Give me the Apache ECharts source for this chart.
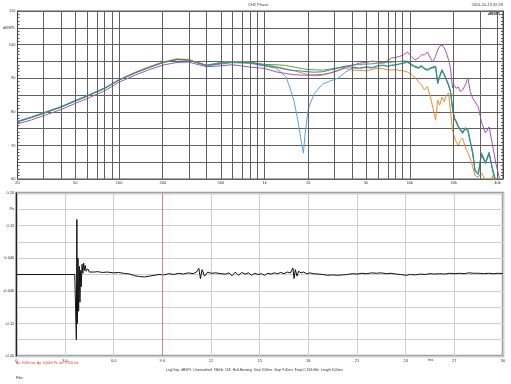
<!DOCTYPE html>
<html><head><meta charset="utf-8">
<script src="https://cdn.jsdelivr.net/npm/echarts@6/dist/echarts.min.js"></script>
<style>html,body{margin:0;padding:0;background:#fff}#c{width:511px;height:384px}</style>
</head><body><div id="c"></div>
<script>
const freqHz = [20,25,30,40,50,60,80,100,130,160,200,250,300,400,500,600,800,1000,1200,1400,1500,1600,1700,1800,1850,1900,2000,2200,2500,2800,3200,3600,4000,4500,5000,5500,6000,6500,7000,7500,8000,8500,9000,9600,10200,10800,11400,12000,12600,13200,13800,14400,15000,15500,16000,16600,17200,17800,18400,19000,19600,20200,20800,21500,22200,23000,24000,25000,26000,27000,28000,29500,31000,33000,35000,37000,39000,41000,43000];
const blueDb = [77.2,78.5,79.7,81.6,83.4,84.8,87.2,89.6,91.8,93.3,94.8,95.6,95.4,93.7,94.2,94.6,94.4,93.6,93.0,90.5,87.0,83.0,77.0,70.5,67.7,73.5,81.0,85.5,88.2,89.1,90.0,91.8,93.0,92.9,93.2,93.0,93.5,93.8,93.5,93.8,93.9,94.2,94.4,94.7,93.9,93.3,92.9,93.4,92.7,92.3,92.8,93.0,93.2,88.3,90.3,92.2,90.8,89.3,87.8,85.8,80.8,77.8,76.8,75.3,74.4,73.5,74.8,74.2,70.8,67.4,62.2,61.2,67.2,64.5,67.4,62.4,58.7,55.7,53.7];
const orangeDb = [77.0,78.3,79.5,81.4,83.2,84.6,87.0,89.5,91.8,93.4,94.8,95.8,95.6,93.9,94.7,95.0,94.8,94.0,93.4,92.8,92.5,92.2,91.9,91.6,91.5,91.3,91.1,90.7,90.9,91.5,92.4,93.0,92.4,92.3,92.2,92.6,93.0,92.8,92.5,92.4,92.6,92.3,92.2,91.8,91.2,90.3,89.0,88.0,86.5,87.5,84.4,81.0,77.6,83.5,82.0,84.4,83.0,85.0,85.6,80.0,74.6,72.5,71.0,70.1,71.5,72.2,69.5,67.8,66.0,63.6,61.0,60.6,61.8,59.7,58.5,61.0,56,53,51];
const greenDb = [77.1,78.4,79.6,81.5,83.3,84.7,87.1,89.5,91.7,93.2,94.7,95.6,95.4,93.8,94.6,94.9,94.7,94.1,94.0,93.8,93.5,93.3,93.1,92.9,92.8,92.7,92.6,92.5,92.4,92.7,93.1,93.6,93.9,94.1,94.2,94.3,94.5,94.5,94.7,94.8,94.9,95.0,95.1,95.1,94.2,93.6,93.2,93.8,93.0,92.6,93.1,93.4,93.6,88.8,90.8,92.6,91.2,89.7,88.2,86.2,81.3,78.3,77.3,75.8,74.9,74.0,75.3,74.8,71.3,68.0,62.8,61.8,67.8,65.1,68.0,63.0,59.3,56.3,54.3];
const tealDb = [77.0,78.3,79.5,81.4,83.2,84.6,87.0,89.4,91.6,93.1,94.6,95.5,95.4,93.8,94.4,94.8,94.6,93.8,93.3,92.6,92.4,92.3,92.2,92.1,92.0,92.0,91.9,91.8,91.9,92.4,93.0,93.4,93.3,93.0,93.4,93.2,93.7,93.9,93.6,93.9,94.0,94.3,94.5,94.9,94.0,93.4,93.0,93.6,92.8,92.4,92.9,93.2,93.4,88.5,90.5,92.4,91.0,89.5,88.0,86.0,81.0,78.0,77.0,75.5,74.6,73.7,75.0,74.5,71.0,67.7,62.5,61.5,67.5,64.8,67.7,62.7,59.0,56,54];
const purpleDb = [76.4,77.6,78.8,80.7,82.5,83.9,86.3,88.8,91.0,92.5,93.9,94.7,94.8,93.4,93.7,94.0,93.3,92.9,91.9,91.4,91.2,91.0,91.0,90.9,90.9,90.9,90.9,91.0,91.1,91.5,92.2,93.3,93.8,94.5,94.7,95.1,94.8,94.5,95.2,96.0,96.2,96.5,96.9,97.8,96.5,95.4,96.0,96.9,97.0,97.8,96.0,94.8,96.5,98.4,99.5,99.9,99.0,97.5,95.5,93.0,87.1,87.8,87.0,87.4,86.0,86.5,88.0,90.1,86.0,84.0,83.0,81.4,77.0,73.7,75.5,70.0,64.5,60.6,57];

const freqGridHz = [30,40,50,60,70,80,90,100,200,300,400,500,600,700,800,900,1000,2000,3000,4000,5000,6000,7000,8000,9000,10000,20000,30000,40000];
const freqLabelHz = [20,50,100,200,500,1000,2000,5000,10000,20000,40000];
const freqLabelText = ['20','50','100','200','500','1k','2k','5k','10k','20k','40k'];
const dbLabels = {110:'110',105:'dBSPL',100:'100',90:'90',80:'80',70:'70',60:'60'};

const impulseMs = [0,3.60,3.68,3.70,3.73,3.76,3.80,3.84,3.88,3.92,3.96,4.00,4.05,4.10,4.15,4.20,4.25,4.30,4.40,4.50,4.60,4.80,5.0,5.3,5.6,6.0,6.3,6.6,7.0,7.3,7.6,7.9,8.2,8.5,8.8,9.1,9.4,9.7,10.0,10.3,10.6,10.9,11.1,11.25,11.35,11.45,11.6,11.8,12.0,12.3,12.6,12.9,13.1,13.3,13.5,13.7,13.9,14.1,14.3,14.5,14.7,14.9,15.1,15.3,15.5,15.7,15.9,16.1,16.3,16.5,16.7,16.9,17.05,17.12,17.2,17.3,17.4,17.55,17.7,17.9,18.1,18.3,18.6,18.9,19.2,19.5,19.8,20.1,20.4,20.7,21.0,21.3,21.6,21.9,22.2,22.5,22.8,23.1,23.4,23.7,24.0,24.3,24.6,24.9,25.2,25.5,25.8,26.1,26.4,26.7,27.0,27.3,27.6,27.9,28.2,28.5,28.8,29.1,29.4,29.7,30.0];
const impulsePa = [0,0,0.002,-0.16,0.135,-0.12,0.04,-0.09,0.02,-0.068,0.01,-0.03,0.025,0.003,0.028,0.01,0.022,0.008,0.014,0.006,0.01,0.006,0.007,0.005,0.006,0.004,0.005,0.003,0.001,-0.003,-0.005,-0.006,-0.004,-0.002,0.0,-0.001,0.002,0.0,0.003,0.001,0.004,0.002,0.006,0.015,-0.01,0.012,-0.004,0.006,0.003,0.004,0.002,0.001,0.004,-0.003,0.006,-0.002,0.005,0.001,0.004,-0.002,0.003,0.0,0.002,-0.002,0.003,0.001,0.004,0.002,0.005,0.002,0.006,0.004,0.016,-0.01,0.012,-0.004,0.008,0.004,0.006,0.002,0.004,0.002,0.001,0.0,-0.002,-0.001,-0.002,-0.001,0.0,0.002,0.001,0.003,0.002,0.004,0.003,0.004,0.002,0.003,0.001,0.0,-0.002,0.0,-0.001,0.001,0.0,0.002,0.001,0.002,0.001,0.003,0.002,0.003,0.002,0.004,0.003,0.003,0.002,0.003,0.002,0.003,0.002];
const paLabels = {20:'0.20',16:'Pa',12:'0.12',4:'0.040','-4':'-0.040','-12':'-0.12','-20':'-0.20'};
const msLabels = {0:'0',3:'3.0',6:'6.0',9:'9.0',12:'12',15:'15',18:'18',21:'21',24:'24',27:'27',30:'30'};
const markerMs = 9.0;

const FONT = 'Liberation Sans, Arial, sans-serif';
const lbl = {fontSize:4, color:'#333', fontFamily:FONT};
const lg = v => Math.log10(v);
const mk = arr => freqHz.map((f,i)=>[lg(f), arr[i]]);
const lineS = (name, arr, color) => ({name, type:'line', xAxisIndex:0, yAxisIndex:0, z:3, data:mk(arr), showSymbol:false, symbol:'none', lineStyle:{width:1, color}, itemStyle:{color}, animation:false, clip:true});

const chart = echarts.init(document.getElementById('c'), null, {renderer:'canvas'});
chart.setOption({
  animation:false,
  backgroundColor:'#fff',
  grid:[
    {left:14, right:8, top:11, height:168, show:true, borderColor:'#555', borderWidth:1},
    {left:14, right:8, top:193, height:163, show:true, borderColor:'#a0a0a0', borderWidth:2.5}
  ],
  xAxis:[
    {type:'value', gridIndex:0, min:lg(20), max:lg(43600),
     axisLine:{show:false},
     axisTick:{show:false},
     splitLine:{show:false},
     axisLabel:Object.assign({}, lbl, {margin:2, customValues:freqLabelHz.map(lg),
        formatter:v=>{const f=Math.round(Math.pow(10,v)); const i=freqLabelHz.indexOf(f); return i>=0?freqLabelText[i]:'';}})},
    {type:'value', gridIndex:1, min:0, max:30, interval:3,
     axisLine:{show:false}, axisTick:{show:false},
     splitLine:{show:true, lineStyle:{color:'#cfcfcf', width:1}},
     axisLabel:Object.assign({}, lbl, {margin:3, formatter:v=>msLabels[Math.round(v)]||''})}
  ],
  yAxis:[
    {type:'value', gridIndex:0, min:60, max:110, interval:5, position:'left',
     axisLine:{show:true, lineStyle:{color:'#444', width:1}},
     axisTick:{show:false, inside:true, length:2},
     minorTick:{show:true, splitNumber:5, length:2, lineStyle:{color:'#555'}},
     splitLine:{show:true, lineStyle:{color:'#606060', width:1}},
     axisLabel:Object.assign({}, lbl, {margin:2, formatter:v=>dbLabels[Math.round(v)]||''})},
    {type:'value', gridIndex:0, min:60, max:110, interval:5, position:'right',
     axisLine:{show:true, lineStyle:{color:'#444', width:1}},
     axisTick:{show:false, inside:true, length:2},
     minorTick:{show:true, splitNumber:5, length:2, lineStyle:{color:'#555'}},
     splitLine:{show:false}, axisLabel:{show:false}},
    {type:'value', gridIndex:1, min:-0.2, max:0.2, interval:0.04,
     axisLine:{show:true, lineStyle:{color:'#222', width:1}},
     axisTick:{show:false},
     splitLine:{show:true, lineStyle:{color:'#cfcfcf', width:1}},
     axisLabel:Object.assign({}, lbl, {margin:2, formatter:v=>paLabels[Math.round(v*100)]||''})}
  ],
  series:[
    {name:'fgrid', type:'line', xAxisIndex:0, yAxisIndex:0, z:1, data:[], silent:true,
     markLine:{silent:true, symbol:'none', label:{show:false}, animation:false,
       lineStyle:{color:'#606060', width:1, type:'solid'},
       data:freqGridHz.map(f=>({xAxis:lg(f)}))}},
    lineS('blue', blueDb, '#5aa2dc'),
    lineS('orange', orangeDb, '#ef8a2c'),
    lineS('green', greenDb, '#5e9e48'),
    lineS('teal', tealDb, '#2e8b96'),
    lineS('purple', purpleDb, '#a552b8'),
    {name:'impulse', type:'line', xAxisIndex:1, yAxisIndex:2,
     data:impulseMs.map((t,i)=>[t, impulsePa[i]]), showSymbol:false, symbol:'none',
     lineStyle:{width:1, color:'#111'}, animation:false,
     markLine:{silent:true, symbol:'none', label:{show:false}, animation:false,
       lineStyle:{color:'#d08a8a', width:1, type:'solid'}, data:[{xAxis:markerMs}]}}
  ],
  graphic:[
    {type:'text', left:248, top:3, style:{text:'CH2 Phase', fontSize:4, fill:'#444', fontFamily:FONT}},
    {type:'text', right:8, top:3, style:{text:'2016-10-13 09:28', fontSize:4, fill:'#444', fontFamily:FONT}},
    {type:'text', right:10, top:12, style:{text:'dBSPL', fontSize:4, fontWeight:'bold', fill:'#222', fontFamily:FONT}},
    {type:'text', left:428, top:358, style:{text:'ms', fontSize:4, fill:'#333', fontFamily:FONT}},
    {type:'text', left:16, top:362, style:{text:'Ax: 9.000 ms  Ay: 0.0000 Pa  dx: 3.700 ms', fontSize:3.3, fill:'#e03020', fontFamily:FONT}},
    {type:'text', left:166, top:369, style:{text:'LogChirp  dBSPL  Unsmoothed  96kHz  16K  Half-Hanning  Start 3.00ms  Stop 9.00ms  FreqLO 166.6Hz  Length 6.00ms', fontSize:3.3, fill:'#333', fontFamily:FONT}},
    {type:'text', left:16, top:376, style:{text:'File:', fontSize:4, fill:'#333', fontFamily:FONT}}
  ]
});
</script></body></html>
